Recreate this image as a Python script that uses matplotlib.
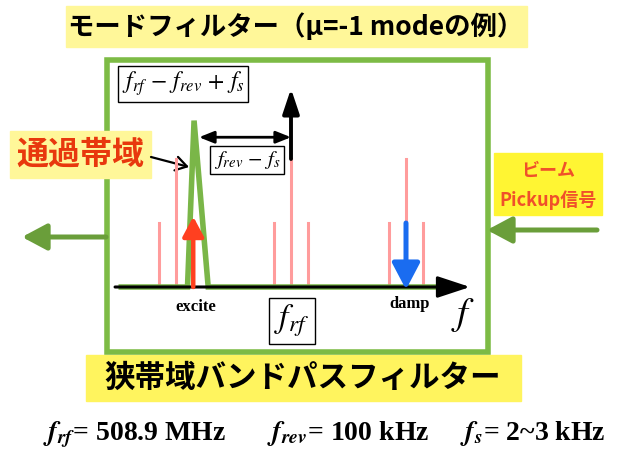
import matplotlib.pyplot as plt
from matplotlib.patches import Rectangle

plt.rcParams['mathtext.fontset'] = 'stix'
JP = ['Noto Sans CJK JP', 'DejaVu Sans']
SERIF = ['Liberation Serif', 'DejaVu Serif']

# spectrum around f_rf, in units of f_rev
harmonics = [-1, 0, 1]
fs_ratio = 0.15
carrier_height = 1.0
sideband_height = 0.5
# narrow band-pass filter shape (pass band at f_rf - f_rev + f_s)
filter_f = [-1.50, -0.90, -0.843, -0.72, 1.31]
filter_gain = [0, 0, 1.30, 0, 0]
excite_f = -1 + fs_ratio
excite_height = 0.55
damp_f = 1
damp_from = 0.5

formulas = [r'$\mathbfit{f}_{\mathbfit{rf}}$= 508.9 MHz',
            r'$\mathbfit{f}_{\mathbfit{rev}}$= 100 kHz',
            r'$\mathbfit{f}_{\mathbfit{s}}$= 2~3 kHz']

GREEN = '#7dbb45'
FILTER = '#7ab648'
DARK_GREEN = '#6a9e3a'
PINK = '#ff9c9c'

fig = plt.figure(figsize=(6.18, 4.49), dpi=100)
ax = fig.add_axes([0, 0, 1, 1])
ax.set_xlim(0, 618)
ax.set_ylim(449, 0)
ax.axis('off')

# spectrum axes: pixel x = 291 + 115 f, pixel y = 287 - 128 h
sp = fig.add_axes([0, 0, 1, 1])
sp.set_xlim(-291 / 115, 327 / 115)
sp.set_ylim((287 - 449) / 128, 287 / 128)
sp.axis('off')
sp.patch.set_alpha(0)

# boxes
ax.add_patch(Rectangle((66, 6), 461, 41, color='#fff799', zorder=1))
ax.add_patch(Rectangle((86, 355), 435, 46, color='#fff45e', zorder=1))
ax.add_patch(Rectangle((10, 131), 141, 47, color='#fff799', zorder=3))
ax.add_patch(Rectangle((494, 153), 108, 62, color='#fff533', zorder=1))
ax.add_patch(Rectangle((107, 60), 381, 292, fill=False, ec=GREEN, lw=4, zorder=2))

ax.text(296, 27, 'モードフィルター（μ=-1 modeの例）', family=JP, fontsize=19,
        fontweight='bold', ha='center', va='center')
ax.text(303, 378, '狭帯域バンドパスフィルター', family=JP, fontsize=22,
        fontweight='bold', ha='center', va='center')
ax.text(80, 155, '通過帯域', family=JP, fontsize=23, fontweight='bold',
        color='#e8380d', ha='center', va='center', zorder=4)
ax.text(548, 170, 'ビーム', family=JP, fontsize=13, fontweight='bold',
        color='#f0502a', ha='center', va='center')
ax.text(548, 200, 'Pickup信号', family=JP, fontsize=13, fontweight='bold',
        color='#f0502a', ha='center', va='center')

# in/out arrows
ax.annotate('', xy=(22, 237), xytext=(106, 237),
            arrowprops=dict(arrowstyle='-|>,head_length=0.75,head_width=0.4',
                            mutation_scale=20, lw=3.6, color=DARK_GREEN,
                            shrinkA=0, shrinkB=0))
ax.annotate('', xy=(487, 230), xytext=(597, 230),
            arrowprops=dict(arrowstyle='-|>,head_length=0.75,head_width=0.4',
                            mutation_scale=20, lw=3.6, color=DARK_GREEN,
                            shrinkA=0, shrinkB=0))
ax.annotate('', xy=(189, 167), xytext=(151, 157),
            arrowprops=dict(arrowstyle='->,head_length=0.4,head_width=0.25',
                            mutation_scale=20, lw=1.6, color='black',
                            shrinkA=0, shrinkB=0))

# spectrum lines
for n in harmonics:
    sp.plot([n, n], [0, carrier_height], color=PINK, lw=2.2)
    for s in (-1, 1):
        sp.plot([n + s * fs_ratio] * 2, [0, sideband_height], color=PINK, lw=2.2)

# frequency axis
sp.annotate('', xy=(1.557, 0), xytext=(-1.53, 0),
            arrowprops=dict(arrowstyle='-|>,head_length=1.0,head_width=0.33',
                            mutation_scale=20, lw=2.2, color='black',
                            shrinkA=0, shrinkB=0))
sp.plot(filter_f, filter_gain, color=FILTER, lw=4, solid_joinstyle='miter',
        solid_capstyle='butt')

sp.annotate('', xy=(0, 1.55), xytext=(0, carrier_height),
            arrowprops=dict(arrowstyle='-|>,head_length=0.75,head_width=0.25',
                            mutation_scale=20, lw=2.8, color='black',
                            shrinkA=0, shrinkB=0))
sp.annotate('', xy=(excite_f, excite_height), xytext=(excite_f, 0),
            arrowprops=dict(arrowstyle='-|>,head_length=0.6,head_width=0.32',
                            mutation_scale=20, lw=3.2, color='#ff4020',
                            shrinkA=0, shrinkB=0))
sp.annotate('', xy=(damp_f, -0.02), xytext=(damp_f, damp_from),
            arrowprops=dict(arrowstyle='-|>,head_length=0.8,head_width=0.42',
                            mutation_scale=20, lw=3.6, color='#1a6cf0',
                            shrinkA=0, shrinkB=0))
sp.annotate('', xy=(0, 1.17), xytext=(-0.80, 1.17),
            arrowprops=dict(arrowstyle='<|-|>,head_length=0.45,head_width=0.18',
                            mutation_scale=20, lw=2.0, color='black',
                            shrinkA=0, shrinkB=0))

# labels on the spectrum
box = dict(boxstyle='square,pad=0.15', fc='white', ec='black', lw=1.0)
sp.text(183, 84, r'$f_{rf}\,-\,f_{rev}\,+\,f_s$', transform=ax.transData,
        fontsize=17, ha='center', va='center', bbox=box)
sp.text(247, 160, r'$f_{rev}\,-\,f_s$', transform=ax.transData, fontsize=15,
        ha='center', va='center', bbox=box)
sp.text(292, 321, r'$f_{rf}$', transform=ax.transData, fontsize=24,
        ha='center', va='center', bbox=box)
sp.text(463, 315, r'$f$', transform=ax.transData, fontsize=28,
        ha='center', va='center')
sp.text(196, 307, 'excite', transform=ax.transData, family=SERIF, fontsize=12,
        fontweight='bold', ha='center', va='center')
sp.text(410, 304, 'damp', transform=ax.transData, family=SERIF, fontsize=12,
        fontweight='bold', ha='center', va='center')

for x, t in zip([43, 267, 460], formulas):
    ax.text(x, 440, t, family=SERIF, fontsize=20, fontweight='bold',
            ha='left', va='baseline')

fig.savefig('out.png', dpi=100)
